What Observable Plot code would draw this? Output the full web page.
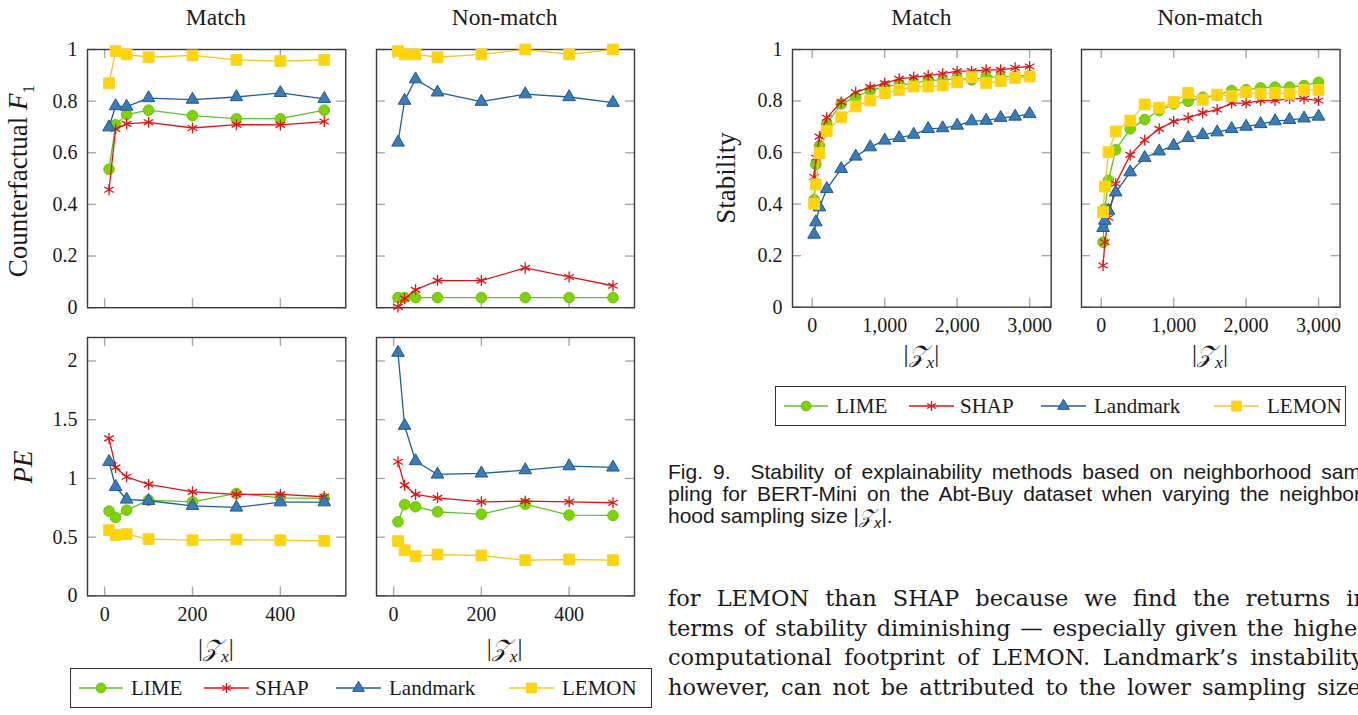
<!DOCTYPE html>
<html><head><meta charset="utf-8">
<script src="https://cdn.jsdelivr.net/npm/d3@7"></script>
<script src="https://cdn.jsdelivr.net/npm/@observablehq/plot@0.6"></script>
<style>
body{margin:0;background:#fff;}
#page{position:relative;width:1358px;height:715px;overflow:hidden;background:#fff;font-family:"Liberation Serif",serif;color:#1a1a1a;}
.abs{position:absolute;white-space:nowrap;}
.title{font-size:23.5px;transform:translate(-50%,-50%);}
.ylab{font-size:27px;transform:translate(-50%,-50%) rotate(-90deg);}
.zx{font-size:25px;transform:translate(-50%,-50%);}
.zx i{font-style:italic;}
.legend{position:absolute;border:1.3px solid #333;box-sizing:border-box;}
.legtext{position:absolute;font-family:"Liberation Serif",serif;font-size:21px;transform:translateY(-50%);white-space:nowrap;}
.cap{font-family:"Liberation Sans",sans-serif;font-size:21px;width:700px;text-align:justify;text-align-last:justify;white-space:normal;line-height:1.15;}
.cap.last{text-align:left;text-align-last:left;}
.body{font-family:"DejaVu Serif",serif;font-size:22.5px;width:700px;text-align:justify;text-align-last:justify;white-space:normal;line-height:1.2;}
</style></head>
<body><div id="page"></div>
<script>
// ---------------- data ----------------
const methods = ["LIME", "SHAP", "Landmark", "LEMON"];
const xsLeft = [10, 25, 50, 100, 200, 300, 400, 500];
const xsRight = [25, 50, 100, 200, 400, 600, 800, 1000, 1200, 1400, 1600, 1800, 2000, 2200, 2400, 2600, 2800, 3000];

const f1MatchLIME     = [0.536, 0.708, 0.748, 0.765, 0.744, 0.732, 0.732, 0.765];
const f1MatchSHAP     = [0.457, 0.692, 0.712, 0.718, 0.696, 0.709, 0.708, 0.721];
const f1MatchLandmark = [0.699, 0.781, 0.779, 0.812, 0.806, 0.816, 0.832, 0.809];
const f1MatchLEMON    = [0.869, 0.994, 0.981, 0.970, 0.977, 0.960, 0.955, 0.960];

const f1NonLIME     = [0.039, 0.039, 0.039, 0.039, 0.039, 0.039, 0.039, 0.039];
const f1NonSHAP     = [0.003, 0.035, 0.069, 0.105, 0.105, 0.154, 0.119, 0.085];
const f1NonLandmark = [0.640, 0.802, 0.885, 0.834, 0.798, 0.827, 0.816, 0.794];
const f1NonLEMON    = [0.994, 0.981, 0.981, 0.970, 0.981, 1.000, 0.981, 1.000];

const peMatchLIME     = [0.722, 0.668, 0.730, 0.815, 0.801, 0.872, 0.835, 0.830];
const peMatchSHAP     = [1.341, 1.094, 1.014, 0.949, 0.886, 0.864, 0.864, 0.844];
const peMatchLandmark = [1.142, 0.929, 0.821, 0.810, 0.767, 0.753, 0.798, 0.798];
const peMatchLEMON    = [0.560, 0.517, 0.526, 0.483, 0.474, 0.480, 0.474, 0.469];

const peNonLIME     = [0.631, 0.778, 0.759, 0.716, 0.696, 0.781, 0.688, 0.685];
const peNonSHAP     = [1.142, 0.943, 0.864, 0.835, 0.801, 0.807, 0.801, 0.793];
const peNonLandmark = [2.071, 1.449, 1.148, 1.034, 1.043, 1.071, 1.105, 1.094];
const peNonLEMON    = [0.466, 0.389, 0.338, 0.352, 0.344, 0.304, 0.310, 0.304];

const stMatchLIME     = [0.417, 0.554, 0.627, 0.712, 0.789, 0.815, 0.841, 0.856, 0.864, 0.867, 0.882, 0.880, 0.889, 0.882, 0.893, 0.893, 0.897, 0.899];
const stMatchSHAP     = [0.505, 0.580, 0.662, 0.735, 0.796, 0.834, 0.854, 0.869, 0.886, 0.893, 0.899, 0.906, 0.916, 0.916, 0.921, 0.921, 0.929, 0.934];
const stMatchLandmark = [0.282, 0.330, 0.388, 0.459, 0.537, 0.585, 0.621, 0.647, 0.657, 0.670, 0.692, 0.695, 0.705, 0.722, 0.724, 0.735, 0.740, 0.750];
const stMatchLEMON    = [0.401, 0.476, 0.598, 0.683, 0.737, 0.779, 0.802, 0.831, 0.843, 0.856, 0.856, 0.860, 0.873, 0.893, 0.869, 0.877, 0.890, 0.895];

const stNonLIME     = [0.252, 0.382, 0.492, 0.611, 0.692, 0.728, 0.763, 0.789, 0.799, 0.815, 0.822, 0.841, 0.844, 0.851, 0.854, 0.854, 0.860, 0.873];
const stNonSHAP     = [0.162, 0.252, 0.347, 0.479, 0.591, 0.649, 0.692, 0.721, 0.735, 0.754, 0.767, 0.792, 0.792, 0.802, 0.802, 0.809, 0.809, 0.802];
const stNonLandmark = [0.308, 0.336, 0.375, 0.446, 0.524, 0.580, 0.605, 0.627, 0.657, 0.669, 0.679, 0.692, 0.701, 0.711, 0.722, 0.727, 0.733, 0.740];
const stNonLEMON    = [0.369, 0.468, 0.602, 0.682, 0.724, 0.787, 0.774, 0.796, 0.832, 0.805, 0.825, 0.819, 0.834, 0.828, 0.831, 0.828, 0.843, 0.843];

const xTicksLeft = [0, 200, 400];
const xTicksRight = [0, 1000, 2000, 3000];
const yTicksF1 = [0, 0.2, 0.4, 0.6, 0.8, 1];
const yTicksPE = [0, 0.5, 1, 1.5, 2];
const yTicksSt = [0, 0.2, 0.4, 0.6, 0.8, 1];

const panelTitles = ["Match", "Non-match"];
const captionLines = [
  "Fig. 9.\u00a0 Stability of explainability methods based on neighborhood sam-",
  "pling for BERT-Mini on the Abt-Buy dataset when varying the neighbor-"
];
const bodyLines = [
  "for LEMON than SHAP because we find the returns in",
  "terms of stability diminishing \u2014 especially given the higher",
  "computational footprint of LEMON. Landmark\u2019s instability,",
  "however, can not be attributed to the lower sampling size."
];

// ---------------- styles ----------------
const STY = {
  LIME:     {line: "#5cc42a", fill: "#7fd400", stroke: "#6cc214", symbol: "circle",   r: 5.3, sw: 1},
  SHAP:     {line: "#e11414", fill: "none",    stroke: "#e11414", symbol: "asterisk", r: 5.2, sw: 1.3},
  Landmark: {line: "#1f5f9c", fill: "#3a7bb8", stroke: "#1d5a94", symbol: "triangle", r: 4.7, sw: 1},
  LEMON:    {line: "#f7c81c", fill: "#ffd500", stroke: "#f9d23c", symbol: "square",   r: 6.1, sw: 1}
};

const page = document.getElementById("page");

function panel({frame, xDomain, yDomain, xTicks, yTicks, xFmt, yFmt, showX, showY, xs, series}) {
  const ml = showY ? 70 : 12, mr = 12, mt = 12, mb = showX ? 45 : 12;
  const fw = frame[2] - frame[0], fh = frame[3] - frame[1];
  const marks = [
    Plot.tickX(xTicks, {x: d => d, insetTop: fh - 9, stroke: "#a8a8a8", strokeWidth: 1.4}),
    Plot.tickX(xTicks, {x: d => d, insetBottom: fh - 9, stroke: "#a8a8a8", strokeWidth: 1.4}),
    Plot.tickY(yTicks, {y: d => d, insetLeft: fw - 9, stroke: "#a8a8a8", strokeWidth: 1.4}),
    Plot.tickY(yTicks, {y: d => d, insetRight: fw - 9, stroke: "#a8a8a8", strokeWidth: 1.4}),
    Plot.frame({stroke: "#3a3a3a", strokeWidth: 1.4})
  ];
  methods.forEach((m, k) => {
    const vals = series[k];
    const rows = xs.map((x, i) => ({x, y: vals[i]}));
    const s = STY[m];
    marks.push(Plot.line(rows, {x: "x", y: "y", stroke: s.line, strokeWidth: 1.3}));
    marks.push(Plot.dot(rows, {x: "x", y: "y", symbol: s.symbol, r: s.r, fill: s.fill, stroke: s.stroke, strokeWidth: s.sw}));
  });
  if (showX) marks.push(Plot.axisX(xTicks, {tickSize: 0, tickPadding: 11, tickFormat: xFmt, label: null, fontSize: 20}));
  if (showY) marks.push(Plot.axisY(yTicks, {tickSize: 0, tickPadding: 10, tickFormat: yFmt, label: null, fontSize: 20}));
  const svg = Plot.plot({
    width: fw + ml + mr, height: fh + mt + mb,
    marginLeft: ml, marginRight: mr, marginTop: mt, marginBottom: mb,
    x: {domain: xDomain, axis: showX ? undefined : null},
    y: {domain: yDomain, axis: showY ? undefined : null},
    style: {fontFamily: "'Liberation Serif', serif", fontSize: "20px", color: "#1a1a1a", background: "transparent", overflow: "visible"},
    marks
  });
  svg.style.position = "absolute";
  svg.style.left = (frame[0] - ml) + "px";
  svg.style.top = (frame[1] - mt) + "px";
  svg.style.maxWidth = "none";
  page.appendChild(svg);
}

const fmtY = d3.format("~g");
const fmtXL = d3.format("d");
const fmtXR = d3.format(",");
const domL = [-39, 549], domR = [-272.5, 3297.5];

panel({frame: [86.7, 48.5, 345, 306.7], xDomain: domL, yDomain: [0, 1], xTicks: xTicksLeft, yTicks: yTicksF1, yFmt: fmtY, showX: false, showY: true, xs: xsLeft,
  series: [f1MatchLIME, f1MatchSHAP, f1MatchLandmark, f1MatchLEMON]});
panel({frame: [375.7, 48.5, 633.7, 306.7], xDomain: domL, yDomain: [0, 1], xTicks: xTicksLeft, yTicks: yTicksF1, showX: false, showY: false, xs: xsLeft,
  series: [f1NonLIME, f1NonSHAP, f1NonLandmark, f1NonLEMON]});
panel({frame: [86.7, 337.3, 345, 595.7], xDomain: domL, yDomain: [0, 2.2], xTicks: xTicksLeft, yTicks: yTicksPE, xFmt: fmtXL, yFmt: fmtY, showX: true, showY: true, xs: xsLeft,
  series: [peMatchLIME, peMatchSHAP, peMatchLandmark, peMatchLEMON]});
panel({frame: [375.7, 337.3, 633.7, 595.7], xDomain: domL, yDomain: [0, 2.2], xTicks: xTicksLeft, yTicks: yTicksPE, xFmt: fmtXL, showX: true, showY: false, xs: xsLeft,
  series: [peNonLIME, peNonSHAP, peNonLandmark, peNonLEMON]});
panel({frame: [792, 49, 1050.7, 306.7], xDomain: domR, yDomain: [0, 1], xTicks: xTicksRight, yTicks: yTicksSt, xFmt: fmtXR, yFmt: fmtY, showX: true, showY: true, xs: xsRight,
  series: [stMatchLIME, stMatchSHAP, stMatchLandmark, stMatchLEMON]});
panel({frame: [1080.7, 49, 1339.3, 306.7], xDomain: domR, yDomain: [0, 1], xTicks: xTicksRight, yTicks: yTicksSt, xFmt: fmtXR, showX: true, showY: false, xs: xsRight,
  series: [stNonLIME, stNonSHAP, stNonLandmark, stNonLEMON]});

// ---------------- text ----------------
function addText(cls, x, y, html) {
  const d = document.createElement("div");
  d.className = "abs " + cls;
  d.style.left = x + "px"; d.style.top = y + "px";
  d.innerHTML = html;
  page.appendChild(d);
  return d;
}
const ZX = '|<span style="font-family:\'DejaVu Serif\',\'DejaVu Sans\',serif;font-style:italic;font-size:0.95em">\u{1D4B5}</span><sub style="font-size:0.7em;font-style:italic">x</sub>|';
addText("title", 215.9, 17, panelTitles[0]);
addText("title", 504.7, 17, panelTitles[1]);
addText("title", 921.4, 17, panelTitles[0]);
addText("title", 1210, 17, panelTitles[1]);
addText("ylab", 21, 181, 'Counterfactual <i>F</i><sub style="font-size:0.65em">1</sub>');
addText("ylab", 23, 467, '<i>PE</i>');
addText("ylab", 726, 178, 'Stability');
addText("zx", 215.9, 650, ZX);
addText("zx", 504.7, 650, ZX);
addText("zx", 921.4, 356, ZX);
addText("zx", 1210, 356, ZX);

// ---------------- legends ----------------
function legend(left, top, width, height, offsets) {
  const box = document.createElement("div");
  box.className = "legend";
  Object.assign(box.style, {left: left + "px", top: top + "px", width: width + "px", height: height + "px"});
  page.appendChild(box);
  const svg = d3.create("svg").attr("width", width).attr("height", height)
    .style("position", "absolute").style("left", "-1.3px").style("top", "-1.3px").style("overflow", "visible");
  const cy = height / 2;
  methods.forEach((m, k) => {
    const s = STY[m];
    const [a, b, t] = offsets[k];
    svg.append("line").attr("x1", a).attr("x2", b).attr("y1", cy).attr("y2", cy).attr("stroke", s.line).attr("stroke-width", 1.3);
    const sym = {circle: d3.symbolCircle, asterisk: d3.symbolAsterisk, triangle: d3.symbolTriangle, square: d3.symbolSquare}[s.symbol];
    svg.append("path").attr("d", d3.symbol(sym, Math.PI * s.r * s.r * 0.85)())
      .attr("transform", `translate(${(a + b) / 2},${cy})`)
      .attr("fill", s.fill).attr("stroke", s.stroke).attr("stroke-width", s.sw);
    const tx = document.createElement("div");
    tx.className = "legtext";
    tx.style.left = t + "px"; tx.style.top = (cy - 1.3) + "px";
    tx.textContent = m;
    box.appendChild(tx);
  });
  box.appendChild(svg.node());
}
const legOffsets = [[9, 53, 60], [134, 179, 184], [266, 311, 318], [439, 484, 491]];
legend(70, 668, 582, 40, legOffsets);
legend(775, 386, 571, 40, legOffsets);

// ---------------- caption & body ----------------
captionLines.forEach((t, i) => addText("cap", 668, 460 + i * 22, t));
addText("cap last", 668, 460 + 2 * 22, "hood sampling size " + ZX + ".");
bodyLines.forEach((t, i) => addText("body", 668, 585 + i * 29.5, t));
</script>
</body></html>
